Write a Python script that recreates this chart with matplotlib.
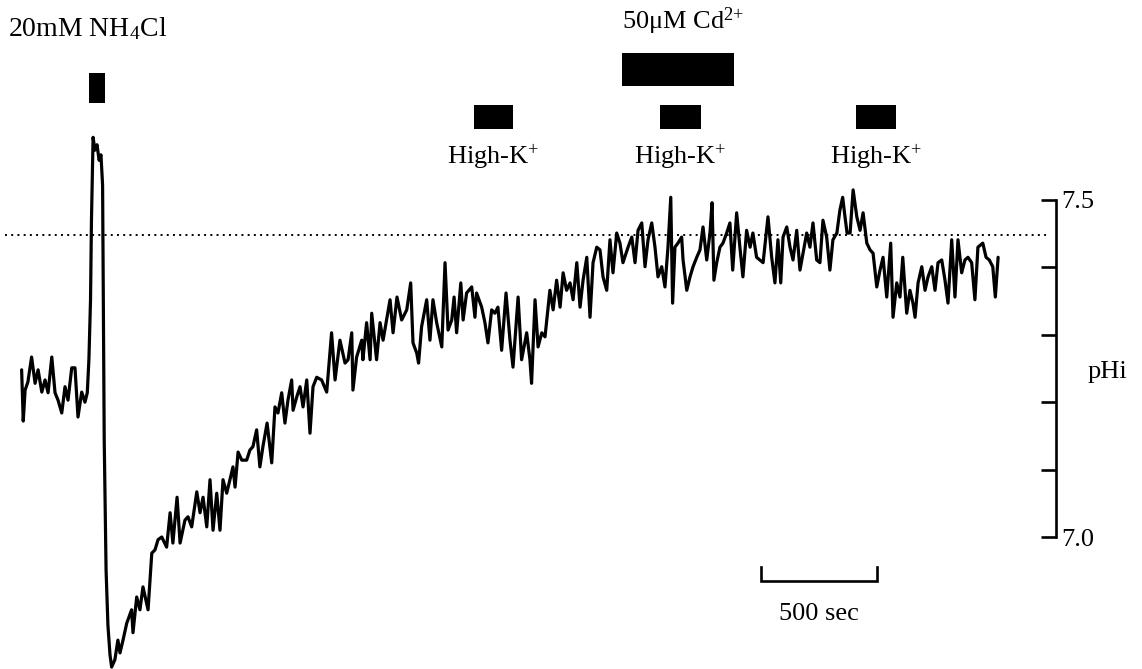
import matplotlib
matplotlib.use("Agg")
import matplotlib.pyplot as plt
from matplotlib.transforms import blended_transform_factory

plt.rcParams['font.family'] = ['Liberation Serif', 'DejaVu Serif']
plt.rcParams['mathtext.fontset'] = 'custom'
plt.rcParams['mathtext.rm'] = 'Liberation Serif'
plt.rcParams['mathtext.it'] = 'Liberation Serif'
plt.rcParams['mathtext.bf'] = 'Liberation Serif:bold'

# ---------------- data ----------------
TRACE_TIME_S = [
    7, 14, 22, 34, 50, 65, 78, 94, 108, 121,
    137, 151, 164, 180, 194, 207, 223, 237, 250, 266,
    280, 290, 297, 304, 308, 315, 323, 332, 341, 349,
    356, 359, 363, 371, 379, 388, 395, 409, 422, 431,
    444, 460, 481, 487, 503, 517, 530, 552, 568, 582,
    595, 611, 632, 647, 659, 677, 690, 711, 724, 740,
    762, 776, 789, 805, 819, 832, 848, 862, 875, 891,
    905, 918, 927, 940, 956, 977, 991, 1004, 1020, 1034,
    1047, 1065, 1085, 1099, 1112, 1128, 1142, 1155, 1171, 1177,
    1193, 1207, 1220, 1236, 1250, 1263, 1279, 1300, 1322, 1343,
    1358, 1379, 1401, 1414, 1430, 1435, 1451, 1473, 1478, 1494,
    1509, 1516, 1537, 1552, 1565, 1595, 1608, 1625, 1645, 1667,
    1684, 1694, 1710, 1718, 1731, 1753, 1767, 1780, 1796, 1818,
    1832, 1845, 1861, 1871, 1882, 1900, 1910, 1925, 1947, 1961,
    1968, 1990, 2004, 2017, 2033, 2047, 2060, 2076, 2095, 2112,
    2125, 2147, 2162, 2184, 2198, 2205, 2220, 2233, 2249, 2263,
    2284, 2298, 2313, 2328, 2341, 2356, 2371, 2384, 2400, 2414,
    2427, 2443, 2457, 2470, 2486, 2500, 2513, 2529, 2543, 2556,
    2572, 2586, 2599, 2621, 2637, 2651, 2664, 2680, 2694, 2707,
    2723, 2737, 2750, 2766, 2780, 2793, 2805, 2813, 2823, 2836,
    2852, 2858, 2874, 2888, 2901, 2917, 2931, 2944, 2960, 2974,
    2983, 2991, 3003, 3017, 3030, 3046, 3060, 3072, 3089, 3103,
    3116, 3132, 3147, 3159, 3175, 3203, 3224, 3240, 3254, 3267,
    3279, 3289, 3305, 3319, 3332, 3348, 3362, 3375, 3391, 3405,
    3418, 3434, 3448, 3461, 3477, 3491, 3504, 3521, 3534, 3546,
    3556, 3565, 3578, 3591, 3607, 3621, 3634, 3650, 3664, 3677,
    3693, 3707, 3720, 3736, 3753, 3763, 3779, 3793, 3805, 3822,
    3836, 3849, 3858, 3871, 3887, 3901, 3914, 3930, 3944, 3957,
    3973, 3987, 4000, 4016, 4030, 4043, 4059, 4073, 4086, 4102,
    4116, 4129, 4150, 4164, 4178, 4193, 4204, 4216,
]
TRACE_PH = [
    7.248, 7.172, 7.218, 7.230, 7.267, 7.228, 7.248, 7.215, 7.233, 7.214,
    7.267, 7.214, 7.203, 7.184, 7.223, 7.203, 7.251, 7.251, 7.178, 7.215,
    7.200, 7.214, 7.263, 7.352, 7.470, 7.593, 7.574, 7.582, 7.559, 7.567,
    7.522, 7.366, 7.144, 6.951, 6.869, 6.825, 6.807, 6.818, 6.847, 6.828,
    6.847, 6.872, 6.892, 6.858, 6.911, 6.892, 6.926, 6.892, 6.976, 6.981,
    6.996, 7.000, 6.985, 7.036, 6.991, 7.059, 6.991, 7.025, 7.030, 7.015,
    7.067, 7.036, 7.059, 7.015, 7.085, 7.010, 7.065, 7.010, 7.085, 7.065,
    7.085, 7.104, 7.074, 7.126, 7.114, 7.114, 7.129, 7.134, 7.159, 7.104,
    7.134, 7.169, 7.110, 7.193, 7.184, 7.214, 7.169, 7.203, 7.233, 7.188,
    7.208, 7.223, 7.193, 7.233, 7.154, 7.223, 7.237, 7.233, 7.215, 7.303,
    7.233, 7.292, 7.258, 7.263, 7.303, 7.218, 7.267, 7.292, 7.263, 7.318,
    7.263, 7.332, 7.263, 7.318, 7.292, 7.352, 7.303, 7.356, 7.322, 7.337,
    7.377, 7.288, 7.273, 7.258, 7.312, 7.352, 7.292, 7.352, 7.318, 7.282,
    7.407, 7.307, 7.322, 7.356, 7.303, 7.377, 7.322, 7.362, 7.371, 7.326,
    7.362, 7.341, 7.318, 7.288, 7.337, 7.332, 7.341, 7.277, 7.362, 7.292,
    7.252, 7.356, 7.263, 7.303, 7.263, 7.228, 7.352, 7.282, 7.303, 7.297,
    7.366, 7.337, 7.381, 7.341, 7.392, 7.366, 7.377, 7.352, 7.407, 7.341,
    7.381, 7.415, 7.326, 7.407, 7.430, 7.426, 7.386, 7.366, 7.441, 7.392,
    7.451, 7.436, 7.407, 7.430, 7.445, 7.407, 7.455, 7.466, 7.401, 7.441,
    7.466, 7.430, 7.386, 7.401, 7.371, 7.430, 7.504, 7.347, 7.430, 7.436,
    7.445, 7.411, 7.366, 7.386, 7.401, 7.415, 7.426, 7.460, 7.411, 7.451,
    7.496, 7.381, 7.407, 7.430, 7.436, 7.451, 7.466, 7.396, 7.481, 7.430,
    7.386, 7.455, 7.430, 7.451, 7.415, 7.407, 7.475, 7.415, 7.377, 7.441,
    7.377, 7.445, 7.460, 7.430, 7.411, 7.455, 7.396, 7.421, 7.451, 7.430,
    7.466, 7.411, 7.407, 7.470, 7.445, 7.396, 7.441, 7.451, 7.485, 7.504,
    7.475, 7.451, 7.451, 7.515, 7.475, 7.455, 7.481, 7.436, 7.426, 7.421,
    7.371, 7.396, 7.415, 7.356, 7.436, 7.326, 7.377, 7.356, 7.415, 7.332,
    7.366, 7.347, 7.326, 7.377, 7.401, 7.366, 7.386, 7.401, 7.366, 7.407,
    7.411, 7.381, 7.347, 7.441, 7.356, 7.441, 7.392, 7.411, 7.415, 7.407,
    7.352, 7.430, 7.436, 7.415, 7.411, 7.401, 7.356, 7.415,
]
assert len(TRACE_TIME_S) == len(TRACE_PH)

REFERENCE_PH = 7.448                      # dotted reference line
PH_TICKS = [7.0, 7.1, 7.2, 7.3, 7.4, 7.5]
PH_TICK_LABELS = ['7.0', '', '', '', '', '7.5']

NH4CL_PERIOD = (297, 366)                 # seconds
CD_PERIOD = (2595, 3078)
HIGHK_PERIODS = [(1957, 2125), (2759, 2935), (3603, 3776)]

NH4CL_LABEL = r'20mM NH$_{4}$Cl'
CD_LABEL = '50\u03bcM Cd' + r'$^{2{+}}$'
HIGHK_LABEL = r'High-K$^{+}$'
SCALE_BAR_SEC = 500
SCALE_LABEL = '500 sec'
Y_LABEL = 'pHi'

# ---------------- layout ----------------
W, H = 1142, 669
PX_PER_SEC = 116 / 500.0
X0_PX = 20.0
PH_HI, PH_LO, Y_HI_PX, Y_LO_PX = 7.5, 7.0, 200.0, 537.0
PX_PER_PH = (Y_LO_PX - Y_HI_PX) / (PH_HI - PH_LO)


def t_of_px(px):
    return (px - X0_PX) / PX_PER_SEC


def ph_of_px(py):
    return PH_HI - (py - Y_HI_PX) / PX_PER_PH


def frac_of_px(py):
    return 1.0 - py / H


FS = 19
fig = plt.figure(figsize=(W / 100, H / 100), dpi=100)
ax = fig.add_axes([0, 0, 1, 1])
ax.set_xlim(t_of_px(0), t_of_px(W))
ax.set_ylim(ph_of_px(H), ph_of_px(0))

# trace
ax.plot(TRACE_TIME_S, TRACE_PH, color='black', lw=2.3,
        solid_joinstyle='round', solid_capstyle='round')

# dotted reference
ax.hlines(REFERENCE_PH, t_of_px(5), t_of_px(1050), colors='black',
          linestyles=(0, (1.0, 2.2)), lw=1.4)

# pH scale axis (right spine positioned in data)
for s in ['left', 'top', 'bottom']:
    ax.spines[s].set_visible(False)
ax.spines['right'].set_position(('data', t_of_px(1056)))
ax.spines['right'].set_bounds(PH_LO, PH_HI)
ax.spines['right'].set_linewidth(1.9)
ax.set_xticks([])
ax.yaxis.tick_right()
ax.set_yticks(PH_TICKS)
ax.set_yticklabels(PH_TICK_LABELS)
ax.tick_params(axis='y', direction='in', length=11, width=1.9, pad=4,
               labelsize=FS, right=True, left=False)
ax.yaxis.set_label_position('right')
ax.set_ylabel(Y_LABEL, rotation=0, fontsize=FS, ha='left', va='center')
ax.yaxis.set_label_coords(1088 / W, frac_of_px(372), transform=ax.transAxes)

# treatment bars
ax.axvspan(*NH4CL_PERIOD, ymin=frac_of_px(103), ymax=frac_of_px(73),
           color='black', lw=0)
ax.axvspan(*CD_PERIOD, ymin=frac_of_px(86), ymax=frac_of_px(53),
           color='black', lw=0)
for p in HIGHK_PERIODS:
    ax.axvspan(*p, ymin=frac_of_px(129), ymax=frac_of_px(105),
               color='black', lw=0)

bt = blended_transform_factory(ax.transData, ax.transAxes)
ax.text(t_of_px(8), frac_of_px(36), NH4CL_LABEL, transform=bt,
        ha='left', va='baseline', fontsize=FS + 1)
ax.text(CD_PERIOD[0], frac_of_px(29), CD_LABEL, transform=bt,
        ha='left', va='baseline', fontsize=FS)
for p in HIGHK_PERIODS:
    ax.text((p[0] + p[1]) / 2, frac_of_px(164), HIGHK_LABEL, transform=bt,
            ha='center', va='baseline', fontsize=FS)

# time scale bar
sb0 = t_of_px(761)
sb1 = sb0 + SCALE_BAR_SEC
ax.plot([sb0, sb0, sb1, sb1],
        [ph_of_px(567), ph_of_px(581), ph_of_px(581), ph_of_px(567)],
        color='black', lw=1.9, solid_joinstyle='miter')
ax.text((sb0 + sb1) / 2, ph_of_px(620), SCALE_LABEL, ha='center',
        va='baseline', fontsize=FS)

fig.savefig('out.png', dpi=100, facecolor='white')
